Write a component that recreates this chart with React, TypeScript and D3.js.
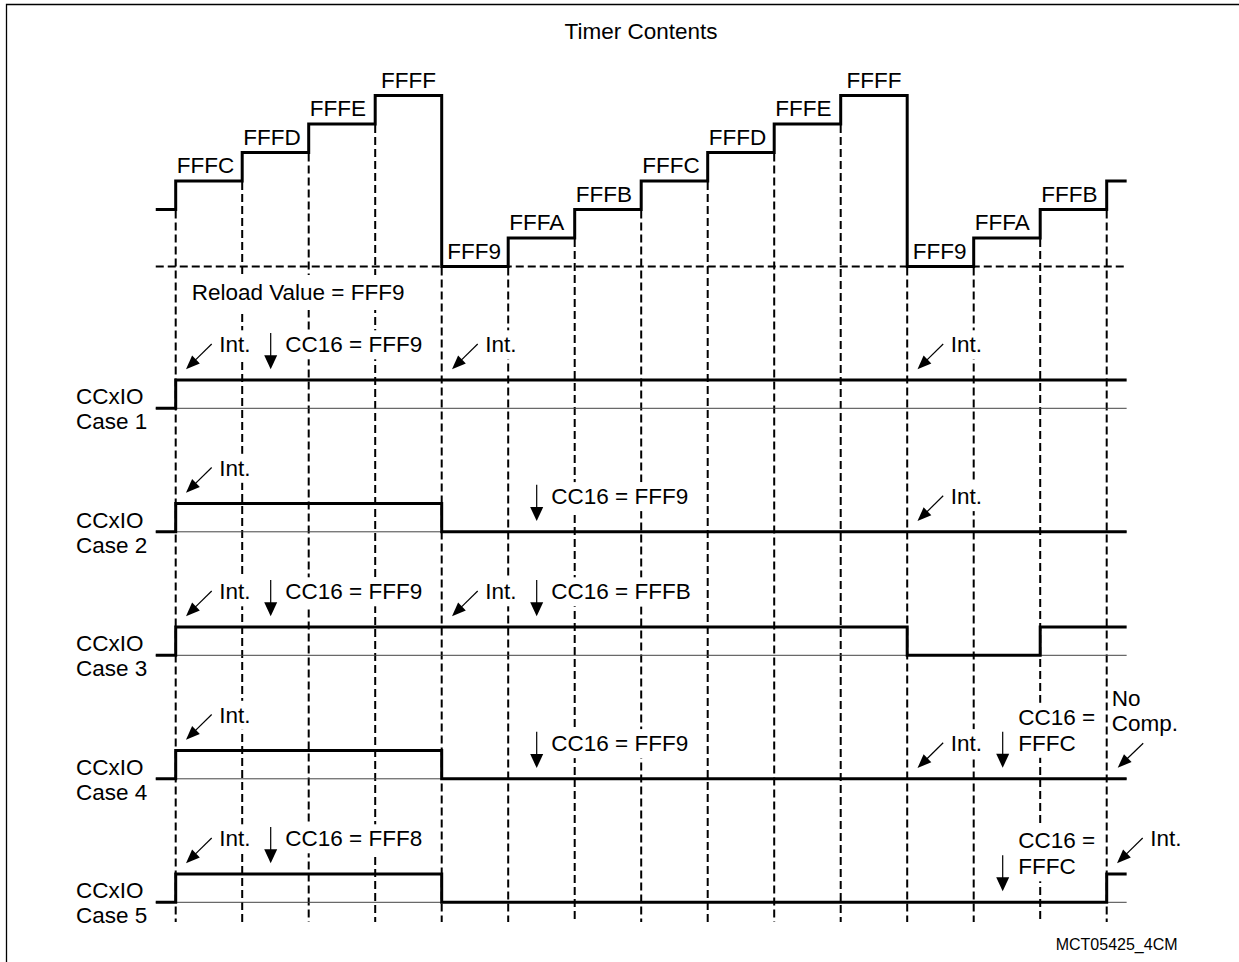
import React, { useEffect, useRef } from "react";
import * as d3 from "d3";

const W = 1239;
const H = 962;
const FONT = "'Liberation Sans', Arial, Helvetica, sans-serif";

// clock edges (index of each dashed line)
const edges = d3.range(15);
// timer value before the first edge, then after each edge
const timerStart = "FFFB";
const timerValues = ["FFFC", "FFFD", "FFFE", "FFFF", "FFF9", "FFFA", "FFFB", "FFFC", "FFFD", "FFFE", "FFFF", "FFF9", "FFFA", "FFFB", "FFFC"];
// labels shown above the steps (one per edge, last edge has none)
const timerLabels = ["FFFC", "FFFD", "FFFE", "FFFF", "FFF9", "FFFA", "FFFB", "FFFC", "FFFD", "FFFE", "FFFF", "FFF9", "FFFA", "FFFB"];
const reloadLabel = "Reload Value = FFF9";
const reloadValue = "FFF9";

const caseNames = ["Case 1", "Case 2", "Case 3", "Case 4", "Case 5"];
const signalName = "CCxIO";
// CCxIO level after each edge (start level is 0)
const case1 = [1, 1, 1, 1, 1, 1, 1, 1, 1, 1, 1, 1, 1, 1, 1];
const case2 = [1, 1, 1, 1, 0, 0, 0, 0, 0, 0, 0, 0, 0, 0, 0];
const case3 = [1, 1, 1, 1, 1, 1, 1, 1, 1, 1, 1, 0, 0, 1, 1];
const case4 = [1, 1, 1, 1, 0, 0, 0, 0, 0, 0, 0, 0, 0, 0, 0];
const case5 = [1, 1, 1, 1, 0, 0, 0, 0, 0, 0, 0, 0, 0, 0, 1];
const caseLevels = [case1, case2, case3, case4, case5];

// annotations: row, edge, kind, text lines
const annRows = [0, 0, 0, 0, 1, 1, 1, 2, 2, 2, 2, 3, 3, 3, 3, 3, 4, 4, 4, 4];
const annEdges = [0, 1, 4, 11, 0, 5, 11, 0, 1, 4, 5, 0, 5, 11, 12, 14, 0, 1, 12, 14];
const annKinds = ["int", "cmp", "int", "int", "int", "cmp", "int", "int", "cmp", "int", "cmp", "int", "cmp", "int", "cmp2", "nocomp", "int", "cmp", "cmp2", "int"];
const annTexts = [
  ["Int."], ["CC16 = FFF9"], ["Int."], ["Int."],
  ["Int."], ["CC16 = FFF9"], ["Int."],
  ["Int."], ["CC16 = FFF9"], ["Int."], ["CC16 = FFFB"],
  ["Int."], ["CC16 = FFF9"], ["Int."], ["CC16 =", "FFFC"], ["No", "Comp."],
  ["Int."], ["CC16 = FFF8"], ["CC16 =", "FFFC"], ["Int."],
];

const title = "Timer Contents";
const footer = "MCT05425_4CM";

export default function App() {
  const ref = useRef<SVGSVGElement | null>(null);

  useEffect(() => {
    const svg = d3.select(ref.current);
    svg.selectAll("*").remove();
    const hex = (s: string) => parseInt(s, 16);

    const x = d3.scaleLinear().domain([0, 14]).range([175.7, 1106.7]);
    const yT = d3.scaleLinear().domain([hex("FFF9"), hex("FFFF")]).range([266.5, 95.5]);
    const rowLow = d3.scaleLinear().domain([0, 4]).range([408.3, 902.3]);
    const amp = 28.3;
    const x0 = x(-0.3);
    const x1 = x(14.3);
    const fs = 22.5;

    const gDash = svg.append("g");
    const gBg = svg.append("g");
    const gText = svg.append("g");
    const gLines = svg.append("g");

    const addText = (g: any, tx: number, ty: number, str: string, size: number, anchor = "start", bgPad = -1) => {
      const t = g.append("text")
        .attr("x", tx).attr("y", ty)
        .attr("font-family", FONT).attr("font-size", size)
        .attr("text-anchor", anchor).attr("fill", "#000")
        .text(str);
      if (bgPad >= 0) {
        const b = (t.node() as SVGTextElement).getBBox();
        g.insert("rect", () => t.node())
          .attr("x", b.x - bgPad).attr("y", b.y - bgPad)
          .attr("width", b.width + 2 * bgPad).attr("height", b.height + 2 * bgPad)
          .attr("fill", "#fff");
      }
      return t;
    };

    // border
    gLines.append("path").attr("d", `M6.5,962 L6.5,4.5 L1239,4.5`).attr("fill", "none").attr("stroke", "#000").attr("stroke-width", 1.3);

    addText(gText, 641, 39, title, fs, "middle");

    // timer levels
    const before = (i: number) => (i === 0 ? timerStart : timerValues[i - 1]);

    // dashed horizontal at reload value
    gDash.append("line")
      .attr("x1", x0).attr("x2", x1)
      .attr("y1", yT(hex(reloadValue))).attr("y2", yT(hex(reloadValue)))
      .attr("stroke", "#000").attr("stroke-width", 2).attr("stroke-dasharray", "8,4");

    // dashed verticals
    edges.forEach((i) => {
      const top = Math.max(yT(hex(before(i))), yT(hex(timerValues[i])));
      gDash.append("line")
        .attr("x1", x(i)).attr("x2", x(i))
        .attr("y1", top + 1).attr("y2", 922)
        .attr("stroke", "#000").attr("stroke-width", 2).attr("stroke-dasharray", "8,4");
    });

    // timer path
    const pts: [number, number][] = [[x0, yT(hex(timerStart))]];
    edges.forEach((i) => {
      pts.push([x(i), yT(hex(before(i)))]);
      pts.push([x(i), yT(hex(timerValues[i]))]);
    });
    pts.push([x1, yT(hex(timerValues[timerValues.length - 1]))]);
    gLines.append("path").attr("d", d3.line()(pts) as string)
      .attr("fill", "none").attr("stroke", "#000").attr("stroke-width", 3).attr("stroke-linejoin", "miter");

    // timer labels
    timerLabels.forEach((lab, i) => {
      const ly = yT(hex(lab)) - 8;
      if (lab === "FFFF") addText(gText, (x(i) + x(i + 1)) / 2, ly, lab, fs, "middle");
      else if (lab === "FFF9") addText(gText, x(i) + 5.5, ly, lab, fs);
      else addText(gText, x(i) + 1, ly, lab, fs);
    });

    // reload label
    addText(gBg, 191.7, 300, reloadLabel, fs, "start", 5);

    // arrow helpers
    const diagArrow = (tx: number, ty: number, sx: number, sy: number) => {
      const dx = sx - tx, dy = sy - ty;
      const len = Math.hypot(dx, dy);
      const ux = dx / len, uy = dy / len;
      const nx = -uy, ny = ux;
      const L = 14, w = 11;
      gLines.append("line").attr("x1", sx).attr("y1", sy).attr("x2", tx + ux * L * 0.8).attr("y2", ty + uy * L * 0.8)
        .attr("stroke", "#000").attr("stroke-width", 1.2);
      gLines.append("path")
        .attr("d", `M${tx},${ty} L${tx + ux * L + nx * w / 2},${ty + uy * L + ny * w / 2} L${tx + ux * L - nx * w / 2},${ty + uy * L - ny * w / 2} Z`)
        .attr("fill", "#000");
    };
    const downArrow = (ax: number, y1: number, y2: number) => {
      const L = 14, w = 13;
      gLines.append("line").attr("x1", ax).attr("x2", ax).attr("y1", y1).attr("y2", y2 - L + 2)
        .attr("stroke", "#000").attr("stroke-width", 1.2);
      gLines.append("path").attr("d", `M${ax},${y2} L${ax - w / 2},${y2 - L} L${ax + w / 2},${y2 - L} Z`).attr("fill", "#000");
    };

    // cases
    caseLevels.forEach((lv, r) => {
      const low = rowLow(r);
      const lvY = (v: number) => (v ? low - amp : low);
      addText(gText, 76, low - 4, signalName, fs);
      addText(gText, 76, low + 21, caseNames[r], fs);

      // thin reference line
      gLines.append("line").attr("x1", x0).attr("x2", x1).attr("y1", low).attr("y2", low)
        .attr("stroke", "#444").attr("stroke-width", 1);

      const p: [number, number][] = [[x0, lvY(0)]];
      let prev = 0;
      lv.forEach((v, i) => {
        if (v !== prev) {
          p.push([x(i), lvY(prev)]);
          p.push([x(i), lvY(v)]);
        }
        prev = v;
      });
      p.push([x1, lvY(prev)]);
      gLines.append("path").attr("d", d3.line()(p) as string)
        .attr("fill", "none").attr("stroke", "#000").attr("stroke-width", 3);
    });

    // annotations
    annRows.forEach((r, k) => {
      const e = annEdges[k];
      const X = x(e);
      const level = caseLevels[r][e];
      const L = level ? rowLow(r) - amp : rowLow(r);
      const kind = annKinds[k];
      const txt = annTexts[k];
      if (kind === "int") {
        diagArrow(X + 10.3, L - 10.7, X + 36, L - 36);
        addText(gBg, X + 43.6, L - 27.7, txt[0], fs, "start", 2);
      } else if (kind === "cmp") {
        downArrow(X + 28.5, L - 47, L - 10.7);
        addText(gBg, X + 43.1, L - 27.7, txt[0], fs, "start", 2);
      } else if (kind === "cmp2") {
        downArrow(X + 29, L - 47, L - 11);
        addText(gBg, X + 44.6, L - 54, txt[0], fs, "start", 2);
        addText(gBg, X + 44.6, L - 28, txt[1], fs, "start", 2);
      } else if (kind === "nocomp") {
        diagArrow(X + 11, L - 11, X + 36.5, L - 35.5);
        addText(gBg, X + 5, L - 73, txt[0], fs, "start", 1);
        addText(gBg, X + 5, L - 47.5, txt[1], fs, "start", 1);
      }
    });

    addText(gText, 1055.7, 950, footer, 16);
  }, []);

  return (
    <svg
      ref={ref}
      width={W}
      height={H}
      style={{ position: "absolute", left: 0, top: 0, background: "#fff" }}
    />
  );
}
